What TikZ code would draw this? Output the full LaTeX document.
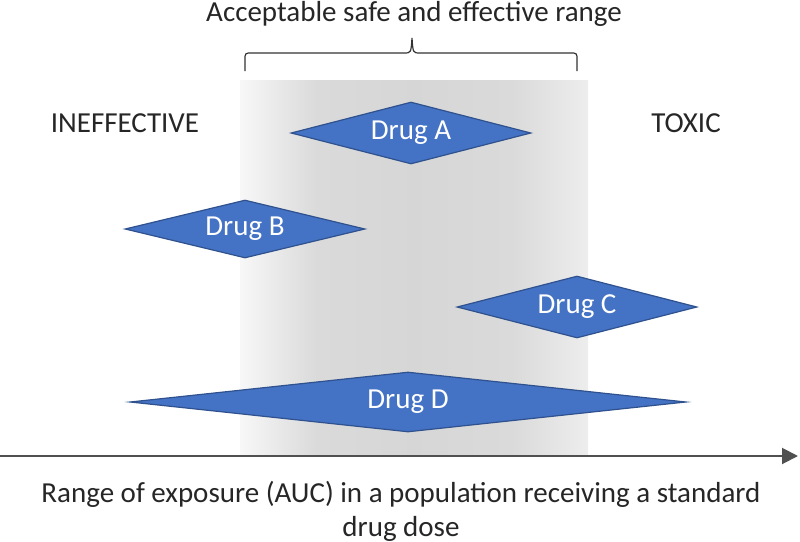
\documentclass[tikz,border=0pt]{standalone}
\usepackage{fontspec}
\setmainfont{Carlito}
\usetikzlibrary{arrows.meta, shapes.geometric}
\definecolor{drugblue}{HTML}{4472C4}
\definecolor{drugedge}{HTML}{2F528F}
\definecolor{axisgray}{HTML}{505050}
\pgfdeclarehorizontalshading{bandshade}{100bp}{
  color(0bp)=(gray!6); color(25bp)=(gray!6); color(36bp)=(gray!29);
  color(50bp)=(gray!32); color(64bp)=(gray!29); color(75bp)=(gray!14);
  color(100bp)=(gray!14)}

\begin{document}
\begin{tikzpicture}[
  x=0.5pt, y=-0.5pt,
  drug/.style={diamond, draw=drugedge, semithick, fill=drugblue, text=white,
               inner sep=0pt, font=\fontsize{14.5}{17}\selectfont},
  lbl/.style={font=\fontsize{14.5}{17}\selectfont, text=black!85},
  arr/.style={-{Triangle[length=8pt, width=8pt]}, line width=1pt, axisgray},
]
\useasboundingbox (0,0) rectangle (800,542);

%% Safe range band
\shade[shading=bandshade] (240,80) rectangle (588,455);

%% Brace and title
\draw[black!80, line width=0.6pt]
  (245,71) -- (245,60) .. controls (245,53) .. (252,53) -- (404,53)
  .. controls (411,53) .. (412,38) .. controls (413,53) .. (420,53)
  -- (570,53) .. controls (577,53) .. (577,60) -- (577,71);
\node[lbl] (title) at (414,14) {Acceptable safe and effective range};

%% Side labels
\node[lbl] (ineff) at (125,123) {INEFFECTIVE};
\node[lbl] (toxic) at (686,123) {TOXIC};

%% Drugs
\node[drug, aspect=4, minimum width=120pt, minimum height=31pt] (drugA) at (411,133) {Drug A};
\node[drug, aspect=4, minimum width=120pt, minimum height=29pt] (drugB) at (245,229) {Drug B};
\node[drug, aspect=4, minimum width=120pt, minimum height=31pt] (drugC) at (577,307) {Drug C};
\node[drug, aspect=9, minimum width=278pt, minimum height=30pt] (drugD) at (408,402) {Drug D};

%% Exposure axis
\coordinate (ax0) at (0,456);
\coordinate (ax1) at (798,456);
\draw[arr] (ax0) -- (ax1);
\node[lbl, align=center] (axlbl) at (401,511)
  {Range of exposure (AUC) in a population receiving a standard\\drug dose};

\end{tikzpicture}
\end{document}
